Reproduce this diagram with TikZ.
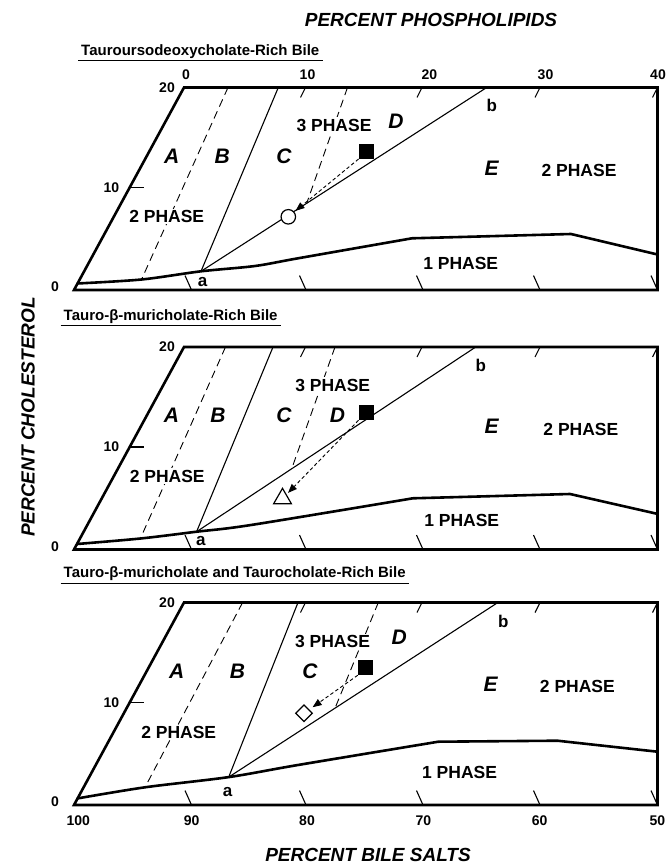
\documentclass[tikz,border=0pt]{standalone}
\usepackage{fontspec}
\setmainfont{Liberation Sans}
\usetikzlibrary{arrows.meta,shapes.geometric,calc}

\tikzset{
  panelframe/.style={line width=2.6pt, line join=miter},
  bdry/.style={line width=2.6pt, line join=round},
  thinline/.style={line width=1.1pt},
  dashline/.style={line width=0.9pt, dash pattern=on 8pt off 5pt},
  arrowline/.style={line width=0.9pt, dash pattern=on 3.5pt off 2.5pt, -{Triangle[length=9pt,width=7pt]}},
  tickline/.style={line width=1.1pt},
  numlabel/.style={font=\fontsize{14}{16}\selectfont\bfseries, inner sep=0pt},
  regionlabel/.style={font=\fontsize{21}{23}\selectfont\bfseries\itshape, inner sep=1pt},
  phaselabel/.style={font=\fontsize{17.5}{20}\selectfont\bfseries, fill=white, inner sep=1.5pt},
  pointlabel/.style={font=\fontsize{17}{19}\selectfont\bfseries, inner sep=0pt},
  axistitle/.style={font=\fontsize{19}{22}\selectfont\bfseries\itshape, inner sep=0pt},
  paneltitle/.style={font=\fontsize{15}{17}\selectfont\bfseries, inner xsep=3pt, inner ysep=2pt, anchor=south west},
  sqmark/.style={rectangle, fill=black, minimum size=15pt, inner sep=0pt},
  circmark/.style={circle, draw, fill=white, line width=1.2pt, minimum size=14.5pt, inner sep=0pt},
  trimark/.style={regular polygon, regular polygon sides=3, draw, fill=white, line width=1.2pt, minimum size=20.5pt, inner sep=0pt},
  diamark/.style={diamond, draw, fill=white, line width=1.2pt, minimum width=17pt, minimum height=17pt, inner sep=0pt},
}

\newcommand{\drawpanelframe}[1]{%
  \foreach \xx in {305.5,422,540,657.5} \draw[tickline] (\xx-5,10) -- (\xx,0);
  \foreach \xx in {191.5,306,423,540,657.5} \draw[tickline] (\xx-6.5,188) -- (\xx,202.5);
  \draw[tickline] (130,100) -- (144,100);
  \draw[panelframe] (184,0) -- (657.5,0) -- (657.5,202.5) -- (74,202.5) -- cycle;
  \node[numlabel] (ltw#1) at (167,0) {20};
  \node[numlabel] (lte#1) at (111.5,100) {10};
  \node[numlabel] (lze#1) at (55,199.5) {0};
}

\begin{document}
\begin{tikzpicture}[x=1pt,y=-1pt]
\useasboundingbox (0,0) rectangle (667,867);

% axis titles
\node[axistitle] (phos) at (431,20) {PERCENT PHOSPHOLIPIDS};
\node[axistitle] (bile) at (368,855) {PERCENT BILE SALTS};
\node[axistitle, rotate=90] (chol) at (28,417) {PERCENT CHOLESTEROL};

% panel titles
\node[paneltitle] (t1) at (78,60.5) {Tauroursodeoxycholate-Rich Bile};
\draw[line width=1pt] (t1.south west) -- (t1.south east);
\node[paneltitle] (t2) at (60.5,325.5) {Tauro-β-muricholate-Rich Bile};
\draw[line width=1pt] (t2.south west) -- (t2.south east);
\node[paneltitle] (t3) at (60.5,583.3) {Tauro-β-muricholate and Taurocholate-Rich Bile};
\draw[line width=1pt] (t3.south west) -- (t3.south east);

% ================= TOP PANEL =================
\begin{scope}[shift={(0,87.5)}]
  \coordinate (a1) at (201,183.8);
  \coordinate (b1) at (486.7,0);
  \draw[dashline] (228,0) -- (141.5,192);
  \draw[thinline] (278.3,0) -- (a1);
  \draw[thinline] (a1) -- (b1);
  \draw[dashline] (347.5,0) -- ($(a1)!0.37!(b1)$);
  \drawpanelframe{a}
  \draw[bdry] plot[smooth, tension=0.5] coordinates {(77,196) (141.5,192) (201,183.8) (255,178.5) (298,170.8) (412,150.8)} -- (571,146.5) -- (657.5,167);
  \foreach \xx/\lab in {186/0,307.5/10,429.3/20,545.5/30,658/40}
    \node[numlabel] (top\lab) at (\xx,-12.5) {\lab};
  \node[regionlabel] (A1) at (171.7,69.2) {A};
  \node[regionlabel] (B1) at (222.3,69.2) {B};
  \node[regionlabel] (C1) at (284,69.2) {C};
  \node[regionlabel] (D1) at (396,34.2) {D};
  \node[regionlabel] (E1) at (491.7,80.5) {E};
  \node[phaselabel] (p3a) at (334,37.5) {3 PHASE};
  \node[phaselabel] (p2a) at (166.7,129.2) {2 PHASE};
  \node[phaselabel] (p2b) at (579,82.5) {2 PHASE};
  \node[phaselabel] (p1a) at (460.7,175.8) {1 PHASE};
  \node[pointlabel] (lb1) at (491.7,17.5) {b};
  \node[pointlabel] (la1) at (202.7,194.2) {a};
  \node[sqmark] (sq1) at (366.3,63.8) {};
  \node[circmark] (c1) at (288.3,129.3) {};
  \draw[arrowline, shorten >=1.5pt] (sq1.south west) -- (c1);
\end{scope}

% ================= MIDDLE PANEL =================
\begin{scope}[shift={(0,347)}]
  \coordinate (a2) at (196.6,184.7);
  \coordinate (b2) at (475.7,0);
  \draw[dashline] (225.5,0) -- (140.4,191.5);
  \draw[thinline] (273,0) -- (a2);
  \draw[thinline] (a2) -- (b2);
  \draw[dashline] (335,0) -- ($(a2)!0.3407!(b2)$);
  \drawpanelframe{b}
  \draw[bdry] plot[smooth, tension=0.5] coordinates {(77,197) (140.4,191.5) (196.6,184.7) (251,178) (412.8,151.3)} -- (570,147) -- (658,167);
  \node[regionlabel] (A2) at (171.5,68) {A};
  \node[regionlabel] (B2) at (217.9,68) {B};
  \node[regionlabel] (C2) at (284,68) {C};
  \node[regionlabel] (D2) at (337.4,68) {D};
  \node[regionlabel] (E2) at (491.5,79.7) {E};
  \node[phaselabel] (q3a) at (332.7,38) {3 PHASE};
  \node[phaselabel] (q2a) at (167.2,129) {2 PHASE};
  \node[phaselabel] (q2b) at (580.9,82.3) {2 PHASE};
  \node[phaselabel] (q1a) at (461.7,173) {1 PHASE};
  \node[pointlabel] (lb2) at (480.9,18) {b};
  \node[pointlabel] (la2) at (200.9,193.7) {a};
  \node[sqmark] (sq2) at (366.3,65.5) {};
  \node[trimark] (tri2) at (282.5,151.6) {};
  \draw[arrowline, shorten >=2pt] (sq2.south west) -- (tri2);
\end{scope}

% ================= BOTTOM PANEL =================
\begin{scope}[shift={(0,602.5)}]
  \coordinate (a3) at (228.7,174.6);
  \coordinate (b3) at (497.9,0);
  \draw[dashline] (242.6,0) -- (145,184.8);
  \draw[thinline] (298,0) -- (a3);
  \draw[thinline] (a3) -- (b3);
  \draw[dashline] (378.3,0) -- ($(a3)!0.395!(b3)$);
  \drawpanelframe{c}
  \draw[bdry] plot[smooth, tension=0.5] coordinates {(77,196) (145,184.8) (228.7,174.6) (297.9,162.5) (438.3,139.2)} -- (557.4,138.2) -- (657.5,149.2);
  \foreach \xx/\lab in {78.3/100,191.7/90,307/80,423.4/70,539.6/60,657.4/50}
    \node[numlabel] (bot\lab) at (\xx,218.2) {\lab};
  \node[regionlabel] (A3) at (176.6,69.2) {A};
  \node[regionlabel] (B3) at (237.4,69.2) {B};
  \node[regionlabel] (C3) at (310,69.2) {C};
  \node[regionlabel] (D3) at (399.1,34.8) {D};
  \node[regionlabel] (E3) at (490.6,81.5) {E};
  \node[phaselabel] (r3a) at (332.5,39.2) {3 PHASE};
  \node[phaselabel] (r2a) at (178.7,130.2) {2 PHASE};
  \node[phaselabel] (r2b) at (577.4,83.5) {2 PHASE};
  \node[phaselabel] (r1a) at (459.6,169.8) {1 PHASE};
  \node[pointlabel] (lb3) at (503.4,19.2) {b};
  \node[pointlabel] (la3) at (227.7,189.2) {a};
  \node[sqmark] (sq3) at (365.5,65) {};
  \node[diamark] (dia3) at (304,110.8) {};
  \draw[arrowline, shorten >=4pt] (sq3.south west) -- (dia3);
\end{scope}
\end{tikzpicture}
\end{document}
